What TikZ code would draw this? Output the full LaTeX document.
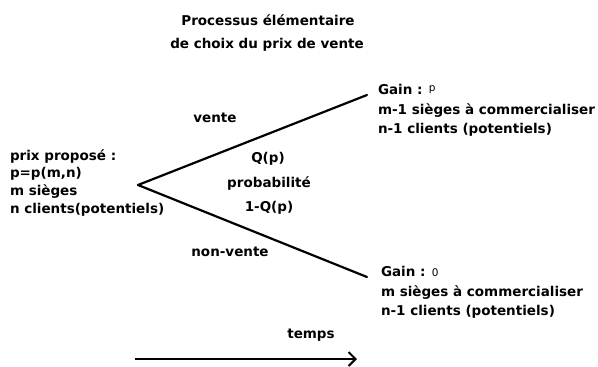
\documentclass[tikz,border=0pt]{standalone}
\usepackage{fontspec}
\setmainfont{DejaVu Sans}
\usetikzlibrary{arrows.meta}
\tikzset{
  txt/.style={font=\fontsize{13.5}{15}\selectfont\bfseries, inner sep=0pt, outer sep=0pt},
  lt/.style={txt, anchor=base west},
  ct/.style={txt, anchor=base},
  branch/.style={line width=2.2pt, line cap=round},
  timearrow/.style={line width=1.8pt, -{Straight Barb[length=7pt,width=14pt,line width=2pt]}}
}
\newcommand{\gainval}[1]{{\fontsize{10.5}{10.5}\selectfont\mdseries #1}}
\begin{document}
\begin{tikzpicture}[x=1pt,y=-1pt]
\useasboundingbox (0,0) rectangle (598,367);
% title
\node[ct] (t1) at (268,25) {Processus élémentaire};
\node[ct] (t2) at (267,48) {de choix du prix de vente};
% branch
\coordinate (v) at (138,185);
\coordinate (up) at (367,95);
\coordinate (lo) at (367,277);
\draw[branch] (v) -- (up);
\draw[branch] (v) -- (lo);
% left text
\node[lt] (l1) at (10,160) {prix proposé :};
\node[lt] (l2) at (10,177) {p=p(m,n)};
\node[lt] (l3) at (10,195) {m sièges};
\node[lt] (l4) at (10,213) {n clients(potentiels)};
% middle
\node[ct] (vente) at (215,122) {vente};
\node[ct] (q) at (268,162) {Q(p)};
\node[ct] (prob) at (269,187) {probabilité};
\node[ct] (q1) at (269,211) {1-Q(p)};
\node[ct] (nv) at (230,256) {non-vente};
% upper right
\node[lt] (u1) at (378,94) {Gain : \raisebox{2.5pt}{\gainval{p}}};
\node[lt] (u2) at (378,114) {m-1 sièges à commercialiser};
\node[lt] (u3) at (378,133) {n-1 clients (potentiels)};
% lower right
\node[lt] (d1) at (381,276) {Gain : \gainval{0}};
\node[lt] (d2) at (381,296) {m sièges à commercialiser};
\node[lt] (d3) at (381,315) {n-1 clients (potentiels)};
% time
\node[ct] (temps) at (311,338) {temps};
\coordinate (a0) at (135,359);
\coordinate (a1) at (357,359);
\draw[timearrow] (a0) -- (a1);
\end{tikzpicture}
\end{document}
